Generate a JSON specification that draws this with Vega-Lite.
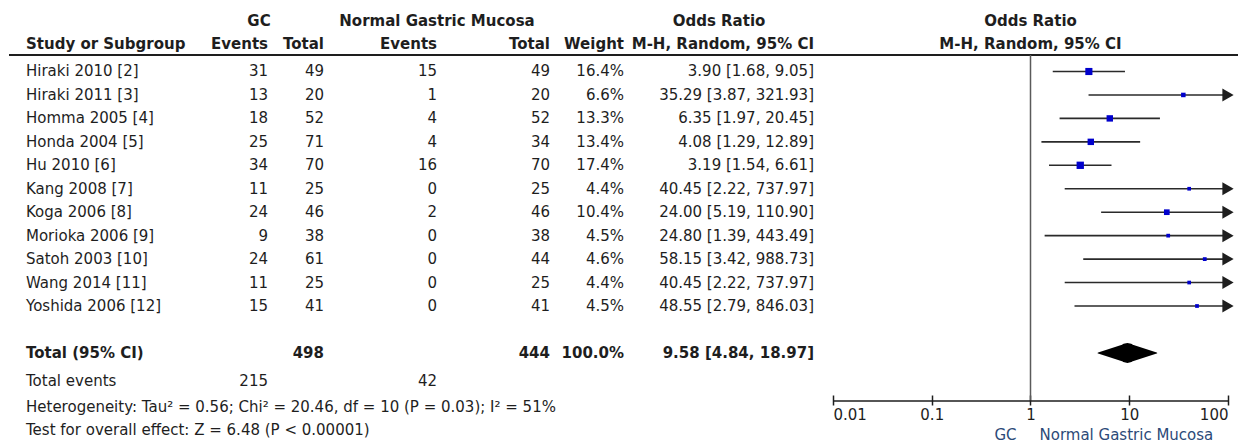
{
  "$schema": "https://vega.github.io/schema/vega-lite/v6.json",
  "padding": {"left": 8, "top": 0, "right": 0, "bottom": 0},
  "spacing": 0,
  "bounds": "flush",
  "config": {
    "view": {"stroke": null},
    "text": {"font": "DejaVu Sans", "fontSize": 15, "color": "#1e1e1e"},
    "axis": {"labelFont": "DejaVu Sans"}
  },
  "datasets": {
    "studies": [
      {"row": 1, "study": "Hiraki 2010 [2]", "gcEv": 31, "gcTot": 49, "nEv": 15, "nTot": 49, "weight": 0.164, "or": 3.90, "lo": 1.68, "hi": 9.05, "ci": "3.90 [1.68, 9.05]"},
      {"row": 2, "study": "Hiraki 2011 [3]", "gcEv": 13, "gcTot": 20, "nEv": 1, "nTot": 20, "weight": 0.066, "or": 35.29, "lo": 3.87, "hi": 321.93, "ci": "35.29 [3.87, 321.93]"},
      {"row": 3, "study": "Homma 2005 [4]", "gcEv": 18, "gcTot": 52, "nEv": 4, "nTot": 52, "weight": 0.133, "or": 6.35, "lo": 1.97, "hi": 20.45, "ci": "6.35 [1.97, 20.45]"},
      {"row": 4, "study": "Honda 2004 [5]", "gcEv": 25, "gcTot": 71, "nEv": 4, "nTot": 34, "weight": 0.134, "or": 4.08, "lo": 1.29, "hi": 12.89, "ci": "4.08 [1.29, 12.89]"},
      {"row": 5, "study": "Hu 2010 [6]", "gcEv": 34, "gcTot": 70, "nEv": 16, "nTot": 70, "weight": 0.174, "or": 3.19, "lo": 1.54, "hi": 6.61, "ci": "3.19 [1.54, 6.61]"},
      {"row": 6, "study": "Kang 2008 [7]", "gcEv": 11, "gcTot": 25, "nEv": 0, "nTot": 25, "weight": 0.044, "or": 40.45, "lo": 2.22, "hi": 737.97, "ci": "40.45 [2.22, 737.97]"},
      {"row": 7, "study": "Koga 2006 [8]", "gcEv": 24, "gcTot": 46, "nEv": 2, "nTot": 46, "weight": 0.104, "or": 24.00, "lo": 5.19, "hi": 110.90, "ci": "24.00 [5.19, 110.90]"},
      {"row": 8, "study": "Morioka 2006 [9]", "gcEv": 9, "gcTot": 38, "nEv": 0, "nTot": 38, "weight": 0.045, "or": 24.80, "lo": 1.39, "hi": 443.49, "ci": "24.80 [1.39, 443.49]"},
      {"row": 9, "study": "Satoh 2003 [10]", "gcEv": 24, "gcTot": 61, "nEv": 0, "nTot": 44, "weight": 0.046, "or": 58.15, "lo": 3.42, "hi": 988.73, "ci": "58.15 [3.42, 988.73]"},
      {"row": 10, "study": "Wang 2014 [11]", "gcEv": 11, "gcTot": 25, "nEv": 0, "nTot": 25, "weight": 0.044, "or": 40.45, "lo": 2.22, "hi": 737.97, "ci": "40.45 [2.22, 737.97]"},
      {"row": 11, "study": "Yoshida 2006 [12]", "gcEv": 15, "gcTot": 41, "nEv": 0, "nTot": 41, "weight": 0.045, "or": 48.55, "lo": 2.79, "hi": 846.03, "ci": "48.55 [2.79, 846.03]"}
    ],
    "total": [
      {"row": 13, "label": "Total (95% CI)", "gcTot": 498, "nTot": 444, "weight": 1.0, "or": 9.58, "lo": 4.84, "hi": 18.97, "ci": "9.58 [4.84, 18.97]"}
    ],
    "events": [
      {"row": 14, "label": "Total events", "gcEv": 215, "nEv": 42}
    ],
    "notes": [
      {"row": 15, "t": "Heterogeneity: Tau² = 0.56; Chi² = 20.46, df = 10 (P = 0.03); I² = 51%"},
      {"row": 16, "t": "Test for overall effect: Z = 6.48 (P < 0.00001)"}
    ]
  },
  "hconcat": [
    {
      "width": 17, "height": 444,
      "layer": [
        {"data": {"values": [{}]}, "mark": {"type": "rule", "color": "#1e1e1e", "strokeWidth": 2}, "encoding": {"y": {"datum": 0.296, "type": "quantitative", "scale": {"domain": [-2.049, 16.885], "reverse": true, "nice": false, "zero": false}, "axis": null}}},
        {"data": {"values": [{"t": "Study or Subgroup", "row": 0}]}, "mark": {"type": "text", "align": "left", "x": "width", "fontWeight": "bold", "dy": -4}, "encoding": {"text": {"field": "t"}, "y": {"field": "row", "type": "quantitative", "scale": {"domain": [-2.049, 16.885], "reverse": true, "nice": false, "zero": false}, "axis": null}}},
        {"data": {"name": "studies"}, "mark": {"type": "text", "align": "left", "x": "width"}, "encoding": {"text": {"field": "study"}, "y": {"field": "row", "type": "quantitative", "scale": {"domain": [-2.049, 16.885], "reverse": true, "nice": false, "zero": false}, "axis": null}}},
        {"data": {"name": "total"}, "mark": {"type": "text", "align": "left", "x": "width", "fontWeight": "bold"}, "encoding": {"text": {"field": "label"}, "y": {"field": "row", "type": "quantitative", "scale": {"domain": [-2.049, 16.885], "reverse": true, "nice": false, "zero": false}, "axis": null}}},
        {"data": {"name": "events"}, "mark": {"type": "text", "align": "left", "x": "width", "dy": 5}, "encoding": {"text": {"field": "label"}, "y": {"field": "row", "type": "quantitative", "scale": {"domain": [-2.049, 16.885], "reverse": true, "nice": false, "zero": false}, "axis": null}}},
        {"data": {"name": "notes"}, "mark": {"type": "text", "align": "left", "x": "width", "dy": 7}, "encoding": {"text": {"field": "t"}, "y": {"field": "row", "type": "quantitative", "scale": {"domain": [-2.049, 16.885], "reverse": true, "nice": false, "zero": false}, "axis": null}}}
      ]
    },
    {
      "width": 242, "height": 444,
      "layer": [
        {"data": {"values": [{}]}, "mark": {"type": "rule", "color": "#1e1e1e", "strokeWidth": 2}, "encoding": {"y": {"datum": 0.296, "type": "quantitative", "scale": {"domain": [-2.049, 16.885], "reverse": true, "nice": false, "zero": false}, "axis": null}}},
        {"data": {"values": [{"t": "Events", "row": 0}]}, "mark": {"type": "text", "align": "right", "x": "width", "fontWeight": "bold", "dy": -4}, "encoding": {"text": {"field": "t"}, "y": {"field": "row", "type": "quantitative", "scale": {"domain": [-2.049, 16.885], "reverse": true, "nice": false, "zero": false}, "axis": null}}},
        {"data": {"values": [{"t": "GC", "row": -1}]}, "mark": {"type": "text", "align": "center", "x": "width", "fontWeight": "bold", "dy": -4, "dx": -9}, "encoding": {"text": {"field": "t"}, "y": {"field": "row", "type": "quantitative", "scale": {"domain": [-2.049, 16.885], "reverse": true, "nice": false, "zero": false}, "axis": null}}},
        {"data": {"name": "studies"}, "mark": {"type": "text", "align": "right", "x": "width"}, "encoding": {"text": {"field": "gcEv"}, "y": {"field": "row", "type": "quantitative", "scale": {"domain": [-2.049, 16.885], "reverse": true, "nice": false, "zero": false}, "axis": null}}},
        {"data": {"name": "events"}, "mark": {"type": "text", "align": "right", "x": "width", "dy": 5}, "encoding": {"text": {"field": "gcEv"}, "y": {"field": "row", "type": "quantitative", "scale": {"domain": [-2.049, 16.885], "reverse": true, "nice": false, "zero": false}, "axis": null}}}
      ]
    },
    {
      "width": 56, "height": 444,
      "layer": [
        {"data": {"values": [{}]}, "mark": {"type": "rule", "color": "#1e1e1e", "strokeWidth": 2}, "encoding": {"y": {"datum": 0.296, "type": "quantitative", "scale": {"domain": [-2.049, 16.885], "reverse": true, "nice": false, "zero": false}, "axis": null}}},
        {"data": {"values": [{"t": "Total", "row": 0}]}, "mark": {"type": "text", "align": "right", "x": "width", "fontWeight": "bold", "dy": -4}, "encoding": {"text": {"field": "t"}, "y": {"field": "row", "type": "quantitative", "scale": {"domain": [-2.049, 16.885], "reverse": true, "nice": false, "zero": false}, "axis": null}}},
        {"data": {"name": "studies"}, "mark": {"type": "text", "align": "right", "x": "width"}, "encoding": {"text": {"field": "gcTot"}, "y": {"field": "row", "type": "quantitative", "scale": {"domain": [-2.049, 16.885], "reverse": true, "nice": false, "zero": false}, "axis": null}}},
        {"data": {"name": "total"}, "mark": {"type": "text", "align": "right", "x": "width", "fontWeight": "bold"}, "encoding": {"text": {"field": "gcTot"}, "y": {"field": "row", "type": "quantitative", "scale": {"domain": [-2.049, 16.885], "reverse": true, "nice": false, "zero": false}, "axis": null}}}
      ]
    },
    {
      "width": 113, "height": 444,
      "layer": [
        {"data": {"values": [{}]}, "mark": {"type": "rule", "color": "#1e1e1e", "strokeWidth": 2}, "encoding": {"y": {"datum": 0.296, "type": "quantitative", "scale": {"domain": [-2.049, 16.885], "reverse": true, "nice": false, "zero": false}, "axis": null}}},
        {"data": {"values": [{"t": "Events", "row": 0}]}, "mark": {"type": "text", "align": "right", "x": "width", "fontWeight": "bold", "dy": -4}, "encoding": {"text": {"field": "t"}, "y": {"field": "row", "type": "quantitative", "scale": {"domain": [-2.049, 16.885], "reverse": true, "nice": false, "zero": false}, "axis": null}}},
        {"data": {"values": [{"t": "Normal Gastric Mucosa", "row": -1}]}, "mark": {"type": "text", "align": "center", "x": "width", "fontWeight": "bold", "dy": -4}, "encoding": {"text": {"field": "t"}, "y": {"field": "row", "type": "quantitative", "scale": {"domain": [-2.049, 16.885], "reverse": true, "nice": false, "zero": false}, "axis": null}}},
        {"data": {"name": "studies"}, "mark": {"type": "text", "align": "right", "x": "width"}, "encoding": {"text": {"field": "nEv"}, "y": {"field": "row", "type": "quantitative", "scale": {"domain": [-2.049, 16.885], "reverse": true, "nice": false, "zero": false}, "axis": null}}},
        {"data": {"name": "events"}, "mark": {"type": "text", "align": "right", "x": "width", "dy": 5}, "encoding": {"text": {"field": "nEv"}, "y": {"field": "row", "type": "quantitative", "scale": {"domain": [-2.049, 16.885], "reverse": true, "nice": false, "zero": false}, "axis": null}}}
      ]
    },
    {
      "width": 113, "height": 444,
      "layer": [
        {"data": {"values": [{}]}, "mark": {"type": "rule", "color": "#1e1e1e", "strokeWidth": 2}, "encoding": {"y": {"datum": 0.296, "type": "quantitative", "scale": {"domain": [-2.049, 16.885], "reverse": true, "nice": false, "zero": false}, "axis": null}}},
        {"data": {"values": [{"t": "Total", "row": 0}]}, "mark": {"type": "text", "align": "right", "x": "width", "fontWeight": "bold", "dy": -4}, "encoding": {"text": {"field": "t"}, "y": {"field": "row", "type": "quantitative", "scale": {"domain": [-2.049, 16.885], "reverse": true, "nice": false, "zero": false}, "axis": null}}},
        {"data": {"name": "studies"}, "mark": {"type": "text", "align": "right", "x": "width"}, "encoding": {"text": {"field": "nTot"}, "y": {"field": "row", "type": "quantitative", "scale": {"domain": [-2.049, 16.885], "reverse": true, "nice": false, "zero": false}, "axis": null}}},
        {"data": {"name": "total"}, "mark": {"type": "text", "align": "right", "x": "width", "fontWeight": "bold"}, "encoding": {"text": {"field": "nTot"}, "y": {"field": "row", "type": "quantitative", "scale": {"domain": [-2.049, 16.885], "reverse": true, "nice": false, "zero": false}, "axis": null}}}
      ]
    },
    {
      "width": 74, "height": 444,
      "layer": [
        {"data": {"values": [{}]}, "mark": {"type": "rule", "color": "#1e1e1e", "strokeWidth": 2}, "encoding": {"y": {"datum": 0.296, "type": "quantitative", "scale": {"domain": [-2.049, 16.885], "reverse": true, "nice": false, "zero": false}, "axis": null}}},
        {"data": {"values": [{"t": "Weight", "row": 0}]}, "mark": {"type": "text", "align": "right", "x": "width", "fontWeight": "bold", "dy": -4}, "encoding": {"text": {"field": "t"}, "y": {"field": "row", "type": "quantitative", "scale": {"domain": [-2.049, 16.885], "reverse": true, "nice": false, "zero": false}, "axis": null}}},
        {"data": {"name": "studies"}, "mark": {"type": "text", "align": "right", "x": "width"}, "encoding": {"text": {"field": "weight", "type": "quantitative", "format": ".1%"}, "y": {"field": "row", "type": "quantitative", "scale": {"domain": [-2.049, 16.885], "reverse": true, "nice": false, "zero": false}, "axis": null}}},
        {"data": {"name": "total"}, "mark": {"type": "text", "align": "right", "x": "width", "fontWeight": "bold"}, "encoding": {"text": {"field": "weight", "type": "quantitative", "format": ".1%"}, "y": {"field": "row", "type": "quantitative", "scale": {"domain": [-2.049, 16.885], "reverse": true, "nice": false, "zero": false}, "axis": null}}}
      ]
    },
    {
      "width": 190, "height": 444,
      "layer": [
        {"data": {"values": [{}]}, "mark": {"type": "rule", "color": "#1e1e1e", "strokeWidth": 2}, "encoding": {"y": {"datum": 0.296, "type": "quantitative", "scale": {"domain": [-2.049, 16.885], "reverse": true, "nice": false, "zero": false}, "axis": null}}},
        {"data": {"values": [{"t": "M-H, Random, 95% CI", "row": 0}]}, "mark": {"type": "text", "align": "right", "x": "width", "fontWeight": "bold", "dy": -4}, "encoding": {"text": {"field": "t"}, "y": {"field": "row", "type": "quantitative", "scale": {"domain": [-2.049, 16.885], "reverse": true, "nice": false, "zero": false}, "axis": null}}},
        {"data": {"values": [{"t": "Odds Ratio", "row": -1}]}, "mark": {"type": "text", "align": "center", "fontWeight": "bold", "dy": -4}, "encoding": {"text": {"field": "t"}, "y": {"field": "row", "type": "quantitative", "scale": {"domain": [-2.049, 16.885], "reverse": true, "nice": false, "zero": false}, "axis": null}}},
        {"data": {"name": "studies"}, "mark": {"type": "text", "align": "right", "x": "width"}, "encoding": {"text": {"field": "ci"}, "y": {"field": "row", "type": "quantitative", "scale": {"domain": [-2.049, 16.885], "reverse": true, "nice": false, "zero": false}, "axis": null}}},
        {"data": {"name": "total"}, "mark": {"type": "text", "align": "right", "x": "width", "fontWeight": "bold"}, "encoding": {"text": {"field": "ci"}, "y": {"field": "row", "type": "quantitative", "scale": {"domain": [-2.049, 16.885], "reverse": true, "nice": false, "zero": false}, "axis": null}}}
      ]
    },
    {
      "width": 19, "height": 444,
      "layer": [
        {"data": {"values": [{}]}, "mark": {"type": "rule", "color": "#1e1e1e", "strokeWidth": 2}, "encoding": {"y": {"datum": 0.296, "type": "quantitative", "scale": {"domain": [-2.049, 16.885], "reverse": true, "nice": false, "zero": false}, "axis": null}}}
      ]
    },
    {
      "width": 395, "height": 444,
      "layer": [
        {"data": {"values": [{}]}, "mark": {"type": "rule", "color": "#1e1e1e", "strokeWidth": 2}, "encoding": {"y": {"datum": 0.296, "type": "quantitative", "scale": {"domain": [-2.049, 16.885], "reverse": true, "nice": false, "zero": false}, "axis": null}}},
        {"data": {"values": [{"t": "Odds Ratio", "row": -1}, {"t": "M-H, Random, 95% CI", "row": 0}]}, "mark": {"type": "text", "align": "center", "fontWeight": "bold", "dy": -4}, "encoding": {"text": {"field": "t"}, "x": {"datum": 1, "type": "quantitative", "scale": {"type": "log", "domain": [0.01, 100], "clamp": true}}, "y": {"field": "row", "type": "quantitative", "scale": {"domain": [-2.049, 16.885], "reverse": true, "nice": false, "zero": false}, "axis": null}}},
        {"data": {"values": [{}]}, "mark": {"type": "rule", "color": "#5a5a5a", "strokeWidth": 1.5}, "encoding": {"x": {"datum": 1, "type": "quantitative", "scale": {"type": "log", "domain": [0.01, 100], "clamp": true}}, "y": {"datum": 0.3, "type": "quantitative", "scale": {"domain": [-2.049, 16.885], "reverse": true, "nice": false, "zero": false}, "axis": null}, "y2": {"datum": 15.05}}},
        {"data": {"values": [{}]}, "mark": {"type": "rule", "color": "#1e1e1e", "strokeWidth": 1.5}, "encoding": {"x": {"datum": 0.01, "type": "quantitative", "scale": {"type": "log", "domain": [0.01, 100], "clamp": true}}, "x2": {"datum": 100}, "y": {"datum": 15.05, "type": "quantitative", "scale": {"domain": [-2.049, 16.885], "reverse": true, "nice": false, "zero": false}, "axis": null}}},
        {"data": {"name": "studies"}, "mark": {"type": "rule", "color": "#2a2a2a", "strokeWidth": 1.6}, "encoding": {
          "x": {"field": "lo", "type": "quantitative", "scale": {"type": "log", "domain": [0.01, 100], "clamp": true},
                "axis": {"orient": "bottom", "values": [0.01, 0.1, 1, 10, 100], "format": "~g", "domain": false, "grid": false, "ticks": true, "tickSize": 10, "tickColor": "#1e1e1e", "tickWidth": 1.5, "offset": -49, "labelFlush": true, "labelFontSize": 15, "labelColor": "#1e1e1e", "labelPadding": 2, "title": null}},
          "x2": {"field": "hi"},
          "y": {"field": "row", "type": "quantitative", "scale": {"domain": [-2.049, 16.885], "reverse": true, "nice": false, "zero": false}, "axis": null}}},
        {"data": {"name": "studies"}, "transform": [{"filter": "datum.hi > 100"}], "mark": {"type": "point", "shape": "triangle-right", "filled": true, "color": "#1e1e1e", "opacity": 1, "size": 170}, "encoding": {"x": {"field": "hi", "type": "quantitative", "scale": {"type": "log", "domain": [0.01, 100], "clamp": true}}, "y": {"field": "row", "type": "quantitative", "scale": {"domain": [-2.049, 16.885], "reverse": true, "nice": false, "zero": false}, "axis": null}}},
        {"data": {"name": "studies"}, "mark": {"type": "point", "shape": "square", "filled": true, "color": "#0000cc", "opacity": 1}, "encoding": {"x": {"field": "or", "type": "quantitative", "scale": {"type": "log", "domain": [0.01, 100], "clamp": true}}, "y": {"field": "row", "type": "quantitative", "scale": {"domain": [-2.049, 16.885], "reverse": true, "nice": false, "zero": false}, "axis": null}, "size": {"field": "weight", "type": "quantitative", "scale": {"type": "linear", "domain": [0, 0.2], "range": [0, 62], "zero": true}, "legend": null}}},
        {"data": {"name": "total"}, "transform": [{"fold": ["lo", "or", "hi"], "as": ["k", "v"]}], "mark": {"type": "trail", "color": "#000000", "opacity": 1}, "encoding": {"x": {"field": "v", "type": "quantitative", "scale": {"type": "log", "domain": [0.01, 100], "clamp": true}}, "y": {"field": "row", "type": "quantitative", "scale": {"domain": [-2.049, 16.885], "reverse": true, "nice": false, "zero": false}, "axis": null}, "size": {"condition": {"test": "datum.k === 'or'", "value": 20}, "value": 0}}},
        {"data": {"values": [{"t": "GC", "row": 16.5}]}, "mark": {"type": "text", "align": "right", "dx": -14, "color": "#2c4a78"}, "encoding": {"text": {"field": "t"}, "x": {"datum": 1, "type": "quantitative", "scale": {"type": "log", "domain": [0.01, 100], "clamp": true}}, "y": {"field": "row", "type": "quantitative", "scale": {"domain": [-2.049, 16.885], "reverse": true, "nice": false, "zero": false}, "axis": null}}},
        {"data": {"values": [{"t": "Normal Gastric Mucosa", "row": 16.5}]}, "mark": {"type": "text", "align": "left", "dx": 9, "color": "#2c4a78"}, "encoding": {"text": {"field": "t"}, "x": {"datum": 1, "type": "quantitative", "scale": {"type": "log", "domain": [0.01, 100], "clamp": true}}, "y": {"field": "row", "type": "quantitative", "scale": {"domain": [-2.049, 16.885], "reverse": true, "nice": false, "zero": false}, "axis": null}}}
      ]
    },
    {
      "width": 11, "height": 444,
      "layer": [
        {"data": {"values": [{}]}, "mark": {"type": "rule", "color": "#1e1e1e", "strokeWidth": 2}, "encoding": {"y": {"datum": 0.296, "type": "quantitative", "scale": {"domain": [-2.049, 16.885], "reverse": true, "nice": false, "zero": false}, "axis": null}}}
      ]
    }
  ]
}
